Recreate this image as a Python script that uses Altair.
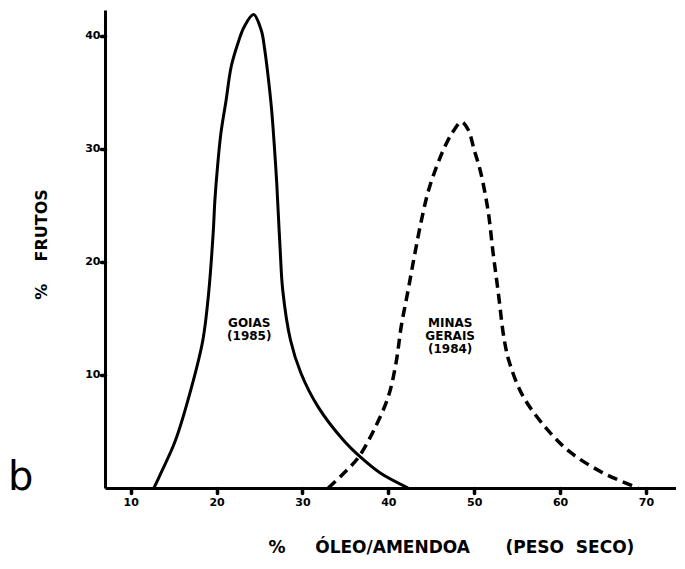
import altair as alt
import pandas as pd

# Goiás (1985) – solid curve
goias_x = [12.7, 13.5, 15.2, 17.0, 18.4, 19.1, 19.6, 19.8, 20.1, 20.5, 21.1, 21.7, 22.5, 23.2, 24.3,
           25.2, 25.6, 26.0, 26.4, 26.7, 27.0, 27.2, 27.4, 27.7, 28.6, 29.8, 31.8, 34.8, 36.8, 39.1, 42.3]
goias_y = [0, 1.3, 4.2, 8.7, 13.1, 17.5, 22.6, 25.5, 28.4, 31.4, 34.3, 37.3, 39.4, 40.8, 41.9,
           40.5, 38.8, 36.4, 33.5, 30.5, 27.0, 24.0, 21.1, 17.5, 13.1, 10.2, 7.2, 4.2, 2.7, 1.3, 0]

# Minas Gerais (1984) – dashed curve
minas_x = [33.0, 34.8, 36.5, 38.3, 40.0, 40.9, 41.5, 42.3, 43.0, 43.8, 44.7, 45.9, 46.7, 47.5, 48.5,
           49.3, 50.0, 50.7, 51.6, 52.2, 52.8, 53.5, 54.1, 55.7, 58.6, 61.3, 65.1, 69.1]
minas_y = [0, 1.3, 2.7, 5.1, 8.1, 11.1, 14.3, 17.5, 20.4, 23.5, 26.4, 29.0, 30.4, 31.5, 32.4,
           31.7, 29.9, 28.1, 24.6, 20.8, 17.3, 13.1, 11.1, 8.1, 5.1, 3.1, 1.3, 0]

x_ticks = [10, 20, 30, 40, 50, 60, 70]
y_ticks = [10, 20, 30, 40]

label_text = ["GOIAS\n(1985)", "MINAS\nGERAIS\n(1984)"]
label_x = [23.8, 47.2]
label_y = [15.0, 15.0]

panel_letter = ["b"]

NB = "\u00a0"
x_title = f"%{NB*5}ÓLEO/AMENDOA{NB*6}(PESO{NB*2}SECO)"
y_title = f"%{NB*4}FRUTOS"

goias_df = pd.DataFrame({"x": goias_x, "y": goias_y, "order": range(len(goias_x))})
minas_df = pd.DataFrame({"x": minas_x, "y": minas_y, "order": range(len(minas_x))})
labels_df = pd.DataFrame({"x": label_x, "y": label_y, "t": label_text})
letter_df = pd.DataFrame({"t": panel_letter})

FONT = "DejaVu Sans"

x_enc = alt.X(
    "x:Q",
    scale=alt.Scale(domain=[7, 73.5], nice=False, zero=False),
    axis=alt.Axis(
        values=x_ticks,
        title=x_title,
        titleFontSize=17,
        titleFont=FONT,
        titleFontWeight="bold",
        titleColor="black",
        titleAlign="center",
        titleAnchor="start",
        titleX=346,
        titleY=64,
        titleBaseline="alphabetic",
        labelPadding=3,
        tickSize=5,
    ),
)
y_enc = alt.Y(
    "y:Q",
    scale=alt.Scale(domain=[0, 42.3], nice=False),
    axis=alt.Axis(
        values=y_ticks,
        title=y_title,
        titleFontSize=16,
        titleFont=FONT,
        titleFontWeight="bold",
        titleColor="black",
        titleAngle=270,
        titleAlign="center",
        titleBaseline="middle",
        titleX=-64,
        titleY=234,
        labelPadding=1,
        tickSize=4,
    ),
)

goias = alt.Chart(goias_df).mark_line(
    color="black", strokeWidth=3, interpolate="catmull-rom"
).encode(x=x_enc, y=y_enc, order="order:Q")

minas = alt.Chart(minas_df).mark_line(
    color="black", strokeWidth=3.5, strokeDash=[10, 6], interpolate="catmull-rom"
).encode(x="x:Q", y="y:Q", order="order:Q")

labels = alt.Chart(labels_df).mark_text(
    font=FONT, fontWeight="bold", fontSize=12, lineBreak="\n", baseline="top",
    align="center", color="black", lineHeight=13
).encode(x="x:Q", y="y:Q", text="t:N")

letter = alt.Chart(letter_df).mark_text(
    font=FONT, fontSize=40, align="left", baseline="alphabetic", color="black"
).encode(x=alt.value(-97), y=alt.value(480), text="t:N")

chart = alt.layer(goias, minas, labels, letter).properties(
    width=571,
    height=478,
    autosize=alt.AutoSizeParams(type="none"),
    padding={"left": 97, "top": 2, "right": 0, "bottom": 73},
).configure_view(stroke=None).configure_axis(
    grid=False,
    domainColor="black",
    domainWidth=3,
    tickColor="black",
    tickWidth=3.5,
    tickCap="round",
    labelFont=FONT,
    labelFontWeight="bold",
    labelFontSize=11,
    labelColor="black",
)

chart.save("out.html", embed_options={"renderer": "svg", "actions": False})
